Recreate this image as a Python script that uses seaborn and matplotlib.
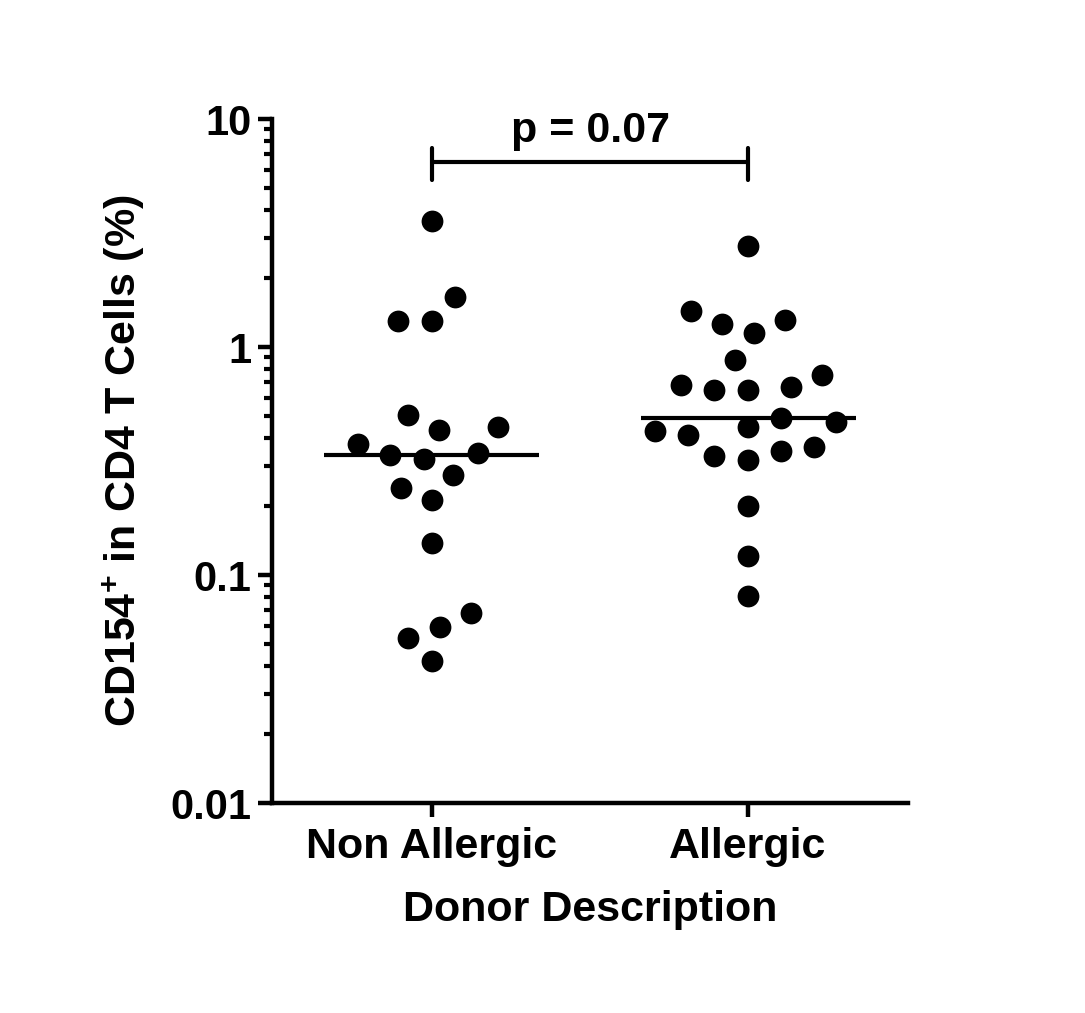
import numpy as np
import pandas as pd
import matplotlib
matplotlib.use("Agg")
import matplotlib.pyplot as plt
import seaborn as sns
from matplotlib.ticker import FixedLocator, LogLocator, NullFormatter, FixedFormatter

# ---- data ----
categories = ["Non Allergic", "Allergic"]
non_allergic = [3.57, 1.66, 1.30, 1.30, 0.503, 0.433, 0.446, 0.343, 0.323, 0.336,
                0.376, 0.241, 0.275, 0.213, 0.138, 0.068, 0.059, 0.053, 0.042]
allergic = [2.77, 1.31, 1.15, 1.26, 1.44, 0.877, 0.681, 0.648, 0.648, 0.668, 0.754,
            0.428, 0.489, 0.446, 0.469, 0.364, 0.333, 0.319, 0.350, 0.411, 0.201,
            0.121, 0.081]
y_ticks = [0.01, 0.1, 1, 10]
y_tick_labels = ["0.01", "0.1", "1", "10"]
p_label = "p = 0.07"
x_title = "Donor Description"
y_title = r"CD154$^{\mathbf{+}}$ in CD4 T Cells (%)"

df = pd.DataFrame({
    "group": [categories[0]] * len(non_allergic) + [categories[1]] * len(allergic),
    "value": non_allergic + allergic,
})

sns.set_style("ticks")
plt.rcParams["font.family"] = ["Liberation Sans", "DejaVu Sans"]
plt.rcParams["font.weight"] = "bold"
plt.rcParams["text.color"] = "black"
plt.rcParams["axes.labelcolor"] = "black"
plt.rcParams["xtick.color"] = "black"
plt.rcParams["ytick.color"] = "black"
plt.rcParams["mathtext.fontset"] = "custom"
plt.rcParams["mathtext.rm"] = "Liberation Sans:bold"
plt.rcParams["mathtext.bf"] = "Liberation Sans:bold"
plt.rcParams["mathtext.default"] = "bf"

fig = plt.figure(figsize=(10.85, 10.13), dpi=100)
ax = fig.add_axes([0.2507, 0.2073, 0.5862, 0.6752])
ax.set_yscale("log")
ax.set_ylim(0.01, 10)

# white edge gives the dots some breathing room in the swarm, like the original
sns.swarmplot(data=df, x="group", y="value", order=categories, color="black",
              size=19.5, edgecolor="white", linewidth=3.8, ax=ax, legend=False)
ax.set_xlim(-0.506, 1.506)
ax.set_ylim(0.01, 10)

# medians
for i, vals in enumerate([non_allergic, allergic]):
    med = np.median(vals)
    ax.hlines(med, i - 0.34, i + 0.34, color="black", linewidth=3.0, zorder=5)

# significance bracket
ax.plot([0, 1], [6.5, 6.5], color="black", lw=3.0, solid_capstyle="butt", clip_on=False)
for xb in (0, 1):
    ax.plot([xb, xb], [5.4, 7.5], color="black", lw=3.0, solid_capstyle="round", clip_on=False)
ax.text(0.5, 7.93, p_label, ha="center", va="baseline", fontsize=31, fontweight="bold",
        color="black")

# axes styling
for side in ("top", "right"):
    ax.spines[side].set_visible(False)
for side in ("left", "bottom"):
    ax.spines[side].set_linewidth(3.2)
    ax.spines[side].set_color("black")
    ax.spines[side].set_zorder(6)

ax.yaxis.set_major_locator(FixedLocator(y_ticks))
ax.yaxis.set_major_formatter(FixedFormatter(y_tick_labels))
ax.yaxis.set_minor_locator(LogLocator(base=10, subs=range(2, 10)))
ax.yaxis.set_minor_formatter(NullFormatter())
ax.tick_params(axis="y", which="major", length=10, width=3.2, labelsize=30, pad=5,
               color="black", labelcolor="black")
ax.tick_params(axis="y", which="minor", length=6, width=3.0, color="black")
ax.tick_params(axis="x", which="major", length=10, width=3.2, labelsize=31, pad=7,
               color="black", labelcolor="black")
for lab in ax.get_xticklabels() + ax.get_yticklabels():
    lab.set_fontweight("bold")

ax.set_xlabel(x_title, fontsize=31, fontweight="bold", labelpad=17, color="black")
ax.set_ylabel(y_title, fontsize=31, fontweight="bold", labelpad=17, color="black")

fig.savefig("out.png", dpi=100, facecolor="white")
